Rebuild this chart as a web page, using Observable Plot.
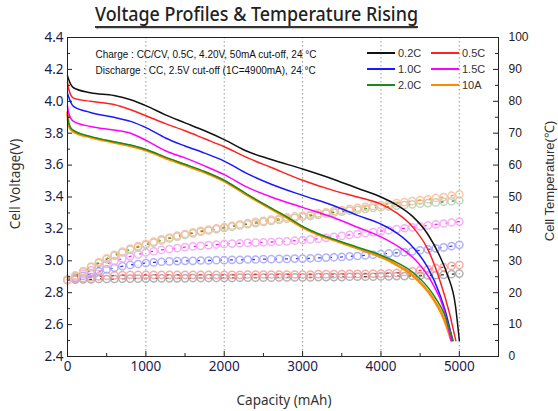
<!DOCTYPE html>
<html><head><meta charset="utf-8">
<script src="https://cdn.jsdelivr.net/npm/d3@7"></script>
<script src="https://cdn.jsdelivr.net/npm/@observablehq/plot@0.6"></script>
<style>
body{margin:0;background:#fff;}
#wrap{position:relative;width:558px;height:411px;overflow:hidden;background:#fff;}
#title{position:absolute;left:95px;top:2px;font-family:"Noto Sans";font-size:19px;font-weight:500;color:#222;white-space:nowrap;transform-origin:0 0;border-bottom:2px solid #333;box-shadow:0 2px 1px -1px #999;line-height:24px;}
#chart{position:absolute;left:0;top:30px;}
#legend{position:absolute;left:0;top:0;width:558px;height:411px;z-index:5;pointer-events:none;}
.leg{position:absolute;font-family:"Liberation Sans",Arial,sans-serif;font-size:11px;color:#333;line-height:12px;}
.legline{position:absolute;height:2px;width:28px;}
</style></head>
<body>
<div id="wrap">
  <div id="title">Voltage Profiles &amp; Temperature Rising</div>
  <div id="chart"></div>
  <div id="legend"></div>
</div>
<script>
// ---------- data ----------
const seriesNames = ["0.2C","0.5C","1.0C","1.5C","2.0C","10A"];
const seriesColors = ["#111111","#ff2020","#1a1aff","#ff00ff","#1a8a1a","#ff8c00"];
const tempColors = ["#a8a8a8","#f5a3a3","#aaaaf5","#f5a8f5","#b8d2b8","#f8c0a2"];

// discharge voltage profiles (capacity mAh, voltage V)
const cap02 = [0,13,77,292,592,806,1021,1250,1500,1750,2000,2300,2600,3000,3400,3700,4000,4200,4400,4600,4750,4850,4950,5000];
const v02   = [4.16,4.14,4.085,4.053,4.036,4.01,3.968,3.915,3.865,3.815,3.76,3.685,3.635,3.575,3.51,3.455,3.40,3.35,3.28,3.165,3.03,2.91,2.72,2.5];
const cap05 = [0,13,77,292,592,806,1021,1250,1500,1750,2000,2300,2600,3000,3400,3700,4000,4200,4400,4600,4750,4870,4955];
const v05   = [4.12,4.08,4.02,4.0,3.98,3.947,3.905,3.86,3.815,3.765,3.715,3.645,3.585,3.505,3.44,3.40,3.355,3.30,3.215,3.07,2.88,2.68,2.5];
const cap10 = [0,13,77,292,592,806,1021,1250,1500,1750,2000,2300,2600,3000,3400,3700,4000,4200,4400,4600,4750,4830,4915];
const v10   = [4.05,4.03,3.968,3.93,3.90,3.874,3.83,3.77,3.72,3.675,3.625,3.545,3.48,3.41,3.345,3.285,3.23,3.175,3.09,2.955,2.79,2.67,2.5];
const cap15 = [0,13,77,292,592,806,1021,1250,1500,1750,2000,2300,2600,3000,3400,3700,4000,4250,4450,4650,4800,4894];
const v15   = [3.97,3.93,3.874,3.842,3.82,3.80,3.75,3.69,3.645,3.595,3.54,3.46,3.40,3.335,3.27,3.21,3.15,3.08,3.0,2.865,2.7,2.5];
const cap20 = [0,13,34,77,292,592,806,1021,1250,1500,1750,2000,2300,2600,2800,3000,3200,3400,3700,4000,4200,4400,4650,4830,4920];
const v20   = [3.91,3.87,3.84,3.817,3.78,3.747,3.726,3.695,3.65,3.605,3.56,3.505,3.415,3.33,3.275,3.215,3.17,3.135,3.085,3.035,2.99,2.93,2.80,2.64,2.5];
const cap10A = [0,13,34,77,292,592,806,1021,1250,1500,1750,2000,2300,2600,2800,3000,3200,3400,3700,4000,4200,4400,4650,4800,4900];
const v10A   = [3.93,3.86,3.83,3.81,3.775,3.742,3.72,3.69,3.645,3.60,3.555,3.50,3.41,3.325,3.27,3.21,3.165,3.13,3.078,3.025,2.975,2.91,2.775,2.64,2.5];

// cell temperature (°C) sampled every 100 mAh
const tempCap = [0,100,200,300,400,500,600,700,800,900,1000,1100,1200,1300,1400,1500,1600,1700,1800,1900,2000,2100,2200,2300,2400,2500,2600,2700,2800,2900,3000,3100,3200,3300,3400,3500,3600,3700,3800,3900,4000,4100,4200,4300,4400,4500,4600,4700,4800,4900,5000];
const t02 = [24.0,24.1,24.2,24.2,24.3,24.3,24.3,24.4,24.4,24.4,
             24.4,24.5,24.5,24.5,24.5,24.5,24.6,24.6,24.6,24.6,
             24.6,24.6,24.7,24.7,24.7,24.7,24.7,24.8,24.8,24.8,
             24.8,24.8,24.9,24.9,24.9,24.9,25.0,25.0,25.0,25.0,
             25.1,25.1,25.2,25.2,25.3,25.3,25.4,25.5,25.6,25.8,26.0];
const t05 = [24.0,24.3,24.6,24.9,25.1,25.3,25.4,25.5,25.6,25.6,
             25.6,25.6,25.6,25.6,25.6,25.6,25.6,25.6,25.6,25.6,
             25.6,25.6,25.6,25.7,25.7,25.7,25.7,25.7,25.7,25.7,
             25.7,25.7,25.8,25.8,25.8,25.8,25.9,25.9,25.9,26.0,
             26.0,26.1,26.2,26.5,26.7,27.0,27.3,27.7,28.0,28.4,28.7];
const t10 = [24.0,24.6,25.3,26.0,26.7,27.3,27.8,28.3,28.7,29.0,
             29.3,29.5,29.7,29.8,29.9,30.0,30.0,30.1,30.1,30.2,
             30.2,30.3,30.3,30.4,30.4,30.5,30.5,30.6,30.6,30.7,
             30.7,30.8,30.9,31.0,31.1,31.2,31.4,31.5,31.7,31.9,
             32.1,32.3,32.5,32.7,33.0,33.3,33.6,33.9,34.2,34.6,35.0];
const t15 = [24.0,25.0,26.0,27.0,28.0,29.0,29.9,30.7,31.4,32.0,
             32.6,33.0,33.4,33.7,34.0,34.3,34.5,34.7,34.9,35.1,
             35.3,35.4,35.5,35.6,35.7,35.8,35.9,36.0,36.1,36.3,
             36.5,36.7,36.9,37.2,37.5,37.8,38.1,38.4,38.7,39.0,
             39.3,39.6,39.9,40.2,40.5,40.8,41.1,41.4,41.7,42.0,42.3];
const t20 = [24.0,25.3,26.6,28.0,29.3,30.5,31.6,32.6,33.5,34.3,
             35.0,35.7,36.4,37.0,37.6,38.1,38.6,39.1,39.5,39.9,
             40.3,40.7,41.1,41.5,41.8,42.2,42.5,42.8,43.2,43.5,
             43.8,44.1,44.4,44.8,45.1,45.4,45.7,46.0,46.3,46.6,
             46.8,47.0,47.3,47.5,47.7,47.9,48.1,48.3,48.5,48.7,48.9];
const t10A = [24.0,25.4,26.8,28.2,29.6,30.8,31.9,32.9,33.8,34.6,
              35.3,36.0,36.7,37.3,37.9,38.4,38.9,39.4,39.8,40.2,
              40.6,41.0,41.4,41.8,42.2,42.5,42.9,43.2,43.6,43.9,
              44.2,44.5,44.9,45.2,45.6,45.9,46.3,46.6,46.9,47.2,
              47.5,47.8,48.1,48.4,48.7,49.0,49.3,49.7,50.0,50.4,50.8];

// axes
const voltTicks = [2.4,2.6,2.8,3.0,3.2,3.4,3.6,3.8,4.0,4.2,4.4];
const voltMinor = [2.5,2.7,2.9,3.1,3.3,3.5,3.7,3.9,4.1,4.3];
const tempTicks = [0,10,20,30,40,50,60,70,80,90,100];
const tempMinor = [5,15,25,35,45,55,65,75,85,95];
const capTicks = [0,1000,2000,3000,4000,5000];
const capMinor = [500,1500,2500,3500,4500];
const gridCap = [1000,2000,3000,4000,5000];
const noteLines = ["Charge : CC/CV, 0.5C, 4.20V, 50mA cut-off, 24 °C",
                   "Discharge : CC, 2.5V cut-off (1C=4900mA), 24 °C"];

// ---------- build ----------
const W = 558, H = 381, mt = 7, mr = 60, mb = 55, ml = 67;
const plotW = W - ml - mr, plotH = H - mt - mb;
const toV = t => 2.4 + t * 0.02;           // temperature (0..100) -> left scale (2.4..4.4)

const voltSets = [[cap02,v02],[cap05,v05],[cap10,v10],[cap15,v15],[cap20,v20],[cap10A,v10A]];
const volt = voltSets.map(([c,v],k) => c.map((x,i) => ({cap:x, v:v[i], s:k})));
const tempSets = [t02,t05,t10,t15,t20,t10A];
const temp = tempSets.map((arr,k) => arr.map((t,i) => ({cap:tempCap[i], t, s:k})));

const marks = [];
marks.push(Plot.ruleX(gridCap, {x: d => d, stroke: "#9a9a9a", strokeDasharray: "1.5,2.5", strokeWidth: 1}));
// temperature series (light hollow markers over a faint dashed line)
temp.forEach((rows,k) => {
  marks.push(Plot.line(rows, {x: "cap", y: d => toV(d.t), stroke: seriesColors[k], strokeWidth: 1.3, strokeDasharray: "2,9", strokeOpacity: 0.9}));
  marks.push(Plot.dot(rows, {x: "cap", y: d => toV(d.t), r: 3.6, stroke: tempColors[k], strokeWidth: 1.5, strokeOpacity: 0.9, fill: "none"}));
});
// voltage profiles: orange first (thicker), then the rest
const order = [5,0,1,2,3,4];
order.forEach(k => {
  marks.push(Plot.line(volt[k], {x: "cap", y: "v", stroke: seriesColors[k], strokeWidth: k === 5 ? 2.6 : 1.5, curve: "monotone-x"}));
});
marks.push(Plot.frame({stroke: "#222", strokeWidth: 1}));
// inward ticks
marks.push(Plot.tickY(voltTicks, {y: d => d, insetRight: plotW - 5, stroke: "#222"}));
marks.push(Plot.tickY(voltMinor, {y: d => d, insetRight: plotW - 3, stroke: "#222"}));
marks.push(Plot.tickY(tempTicks, {y: d => toV(d), insetLeft: plotW - 5, stroke: "#222"}));
marks.push(Plot.tickY(tempMinor, {y: d => toV(d), insetLeft: plotW - 3, stroke: "#222"}));
marks.push(Plot.tickX(capTicks, {x: d => d, insetTop: plotH - 5, stroke: "#222"}));
marks.push(Plot.tickX(capMinor, {x: d => d, insetTop: plotH - 3, stroke: "#222"}));
// tick labels
marks.push(Plot.axisY({ticks: voltTicks, tickSize: 0, tickPadding: 4, tickFormat: d3.format(".1f"), label: null, color: "#1c1c4e", fontSize: 13.5, fontFamily: "Noto Sans"}));
marks.push(Plot.axisY({ticks: tempTicks.map(toV), anchor: "right", tickSize: 0, tickPadding: 10, tickFormat: v => String(Math.round((v - 2.4) / 0.02)), label: null, color: "#222", fontSize: 12, fontFamily: "Liberation Sans"}));
marks.push(Plot.axisX({ticks: capTicks, tickSize: 0, tickPadding: 5, tickFormat: d => String(d), label: null, color: "#1c1c4e", fontSize: 13.5, fontFamily: "Noto Sans"}));
// axis titles
marks.push(Plot.text(["Cell Voltage(V)"], {text: d => d, frameAnchor: "left", dx: -52, dy: -13, rotate: -90, lineAnchor: "middle", textAnchor: "middle", fill: "#333", fontSize: 13.5, fontFamily: "Noto Sans"}));
marks.push(Plot.text(["Cell Temperature(℃)"], {text: d => d, frameAnchor: "right", dx: 51, dy: -16, rotate: -90, lineAnchor: "middle", textAnchor: "middle", fill: "#333", fontSize: 13, fontFamily: "Liberation Sans"}));
marks.push(Plot.text(["Capacity (mAh)"], {text: d => d, frameAnchor: "bottom", dx: 1, dy: 44, lineAnchor: "middle", textAnchor: "middle", fill: "#333", fontSize: 13.5, fontFamily: "Noto Sans"}));
// notes
noteLines.forEach((t,i) => {
  marks.push(Plot.text([t], {text: d => d, frameAnchor: "top-left", dx: 28, dy: 17 + i * 16, lineAnchor: "middle", textAnchor: "start", fill: "#111", fontSize: 10, fontFamily: "Liberation Sans"}));
});

const chart = Plot.plot({
  width: W, height: H,
  marginTop: mt, marginRight: mr, marginBottom: mb, marginLeft: ml,
  x: {domain: [0, 5500]},
  y: {domain: [2.4, 4.4]},
  style: {background: "white", fontFamily: "Noto Sans", overflow: "visible"},
  marks
});
document.getElementById("chart").appendChild(chart);

// legend (HTML, inside the plot frame, top-right)
const leg = document.getElementById("legend");
seriesNames.forEach((name,k) => {
  const col = k % 2, row = Math.floor(k / 2);
  const lx = col === 0 ? 367 : 431, ly = 52 + row * 16;
  const ln = document.createElement("div");
  ln.className = "legline";
  ln.style.left = lx + "px"; ln.style.top = ly + "px"; ln.style.backgroundColor = seriesColors[k];
  leg.appendChild(ln);
  const tx = document.createElement("div");
  tx.className = "leg";
  tx.textContent = name;
  tx.style.left = (lx + 31) + "px"; tx.style.top = (ly - 5) + "px";
  leg.appendChild(tx);
});

// fit title width to the reference span
const title = document.getElementById("title");
const w = title.getBoundingClientRect().width;
title.style.transform = `scaleX(${323 / w})`;
</script>
</body></html>
